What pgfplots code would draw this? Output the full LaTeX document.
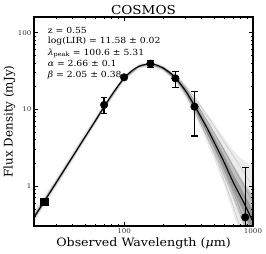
\documentclass[border=0pt]{standalone}
\usepackage{pgfplots}
\pgfplotsset{compat=1.18}
\usepackage{fontspec}
\setmainfont{DejaVu Serif}[FakeStretch=1.1]
\newfontfamily\ylabfont{DejaVu Serif}

\begin{document}
\begin{tikzpicture}
\useasboundingbox (-34pt,-28pt) rectangle (232pt,226pt);
\begin{axis}[
  name=ax,
  at={(0,0)}, anchor=south west,
  width=219pt, height=209pt, scale only axis,
  xmode=log, ymode=log,
  xmin=20, xmax=1000, ymin=0.3, ymax=160,
  axis line style={line width=1.1pt},
  tick align=inside, xtick pos=both, ytick pos=both,
  xticklabel pos=lower, yticklabel pos=left,
  major tick length=4pt, minor tick length=2pt,
  every tick/.style={black, line width=0.7pt},
  xtick={100,1000}, xticklabels={100,1000},
  ytick={1,10,100}, yticklabels={1,10,100},
  minor xtick={30,40,50,60,70,80,90,200,300,400,500,600,700,800,900},
  minor ytick={0.4,0.5,0.6,0.7,0.8,0.9,2,3,4,5,6,7,8,9,20,30,40,50,60,70,80,90},
  tick label style={font=\fontsize{6.5}{7.5}\selectfont, text=black!80},
  xticklabel style={yshift=1pt},
  yticklabel style={xshift=1pt},
  xlabel={Observed Wavelength (\textit{μ}m)},
  ylabel={Flux Density (mJy)},
  every axis x label/.style={at={(axis description cs:0.5,-0.081)}, anchor=center, font=\fontsize{11.5}{13}\selectfont},
  every axis y label/.style={at={(axis description cs:-0.112,0.5)}, anchor=center, rotate=90, font=\ylabfont\fontsize{11.9}{13}\selectfont},
  title={COSMOS},
  every axis title/.style={at={(axis description cs:0.5,1.031)}, anchor=center, font=\fontsize{12.3}{14}\selectfont},
  clip=true,
]
% wide light ensemble envelope
\addplot[draw=none, fill=black, fill opacity=0.08] coordinates {
(20,0.46) (30,1.3) (50,5.0) (70,12.2) (100,28) (130,39) (160,42) (200,38) (250,29) (300,21) (350,15) (400,11) (500,6.5) (600,4.2) (700,2.9) (800,2.3) (1000,1.8)
(1000,0.1) (800,0.22) (700,0.45) (600,1.0) (500,2.2) (400,5.3) (350,8.5) (300,14) (250,22.5) (200,31.5) (160,36.5) (130,33.5) (100,23.5) (70,9.6) (50,3.9) (30,0.98) (20,0.33)
} -- cycle;
% medium ensemble envelope
\addplot[draw=none, fill=black, fill opacity=0.18] coordinates {
(20,0.43) (30,1.22) (50,4.7) (70,11.5) (100,27) (130,37.8) (160,40.5) (200,36.5) (250,27.5) (300,19.5) (350,13.5) (400,9.5) (500,5.0) (600,3.0) (700,1.9) (850,1.1) (1000,0.75)
(1000,0.16) (850,0.3) (700,0.7) (600,1.3) (500,2.7) (400,6.0) (350,9.5) (300,15.5) (250,24) (200,32.8) (160,37.5) (130,34.8) (100,24.2) (70,10.1) (50,4.1) (30,1.05) (20,0.36)
} -- cycle;
% inner ensemble envelope
\addplot[draw=none, fill=black, fill opacity=0.22] coordinates {
(20,0.41) (30,1.18) (50,4.55) (70,11.2) (100,26.3) (130,37) (160,39.8) (200,35.6) (250,26.7) (300,18.5) (350,12.4) (400,8.5) (500,4.3) (600,2.45) (700,1.45) (850,0.8) (1000,0.48)
(1000,0.24) (850,0.45) (700,0.9) (600,1.65) (500,3.2) (400,6.8) (350,10.3) (300,16.5) (250,25) (200,33.6) (160,38.2) (130,35.5) (100,24.8) (70,10.5) (50,4.25) (30,1.08) (20,0.37)
} -- cycle;
% a few individual ensemble lines
\addplot[smooth, black, opacity=0.18, line width=0.4pt] coordinates {(200,36) (250,27.5) (300,20) (350,14.5) (400,10.5) (500,6.0) (600,3.7) (700,2.5) (850,1.5) (1000,1.0)};
\addplot[smooth, black, opacity=0.25, line width=0.4pt] coordinates {(200,35.5) (250,26.8) (300,18.8) (350,13) (400,9.2) (500,5) (600,2.9) (700,1.8) (850,1.0) (1000,0.62)};
\addplot[smooth, black, opacity=0.25, line width=0.4pt] coordinates {(200,34) (250,25) (300,16.5) (350,10.5) (400,6.8) (500,3.2) (600,1.6) (700,0.85) (850,0.37) (1000,0.17)};
\addplot[smooth, black, opacity=0.18, line width=0.4pt] coordinates {(200,33.5) (250,24) (300,15.5) (350,9.5) (400,6) (500,2.6) (600,1.15) (700,0.55) (850,0.2) (1000,0.08)};
% best-fit SED
\addplot[smooth, black, line width=1.1pt] coordinates {
(20,0.39) (24,0.625) (30,1.13) (40,2.43) (50,4.4) (60,7.1) (70,10.8) (80,15.3) (90,20.3) (100,25.5) (110,30.0) (120,33.6) (130,36.2) (140,37.9) (150,38.8) (160,39.0) (170,38.6) (180,37.6) (200,34.6) (225,30.3) (250,25.8) (300,17.4) (350,11.3) (400,7.6) (450,5.3) (500,3.7) (600,2.0) (700,1.13) (850,0.6) (1000,0.34)
};
% photometry
\addplot[only marks, mark=square*, mark size=3.6pt, black] coordinates {(24,0.625)};
\addplot[only marks, mark=*, mark size=3.8pt, black,
  error bars/.cd, y dir=both, y explicit,
  error bar style={line width=1.3pt, black},
  error mark options={rotate=90, mark size=3.3pt, line width=1.3pt, black}]
coordinates {
(70,11.4) += (0,2.8) -= (0,2.5)
(100,26.1) += (0,1.3) -= (0,1.3)
(160,39.3) += (0,4.0) -= (0,4.0)
(250,25.3) += (0,6.0) -= (0,6.0)
(352,10.8) += (0,6.3) -= (0,6.3)
(870,0.39) += (0,1.34) -= (0,0.38)
};
\node[anchor=west, font=\fontsize{8.4}{9}\selectfont] at (axis description cs:0.047,0.937) {z = 0.55};
\node[anchor=west, font=\fontsize{8.4}{9}\selectfont] at (axis description cs:0.047,0.883) {log(LIR) = 11.58 ± 0.02};
\node[anchor=west, font=\fontsize{8.4}{9}\selectfont] at (axis description cs:0.047,0.826) {\textit{λ}\textsubscript{peak} = 100.6 ± 5.31};
\node[anchor=west, font=\fontsize{8.4}{9}\selectfont] at (axis description cs:0.047,0.778) {\textit{α} = 2.66 ± 0.1};
\node[anchor=west, font=\fontsize{8.4}{9}\selectfont] at (axis description cs:0.047,0.724) {\textit{β} = 2.05 ± 0.38};
\end{axis}
\end{tikzpicture}
\end{document}
